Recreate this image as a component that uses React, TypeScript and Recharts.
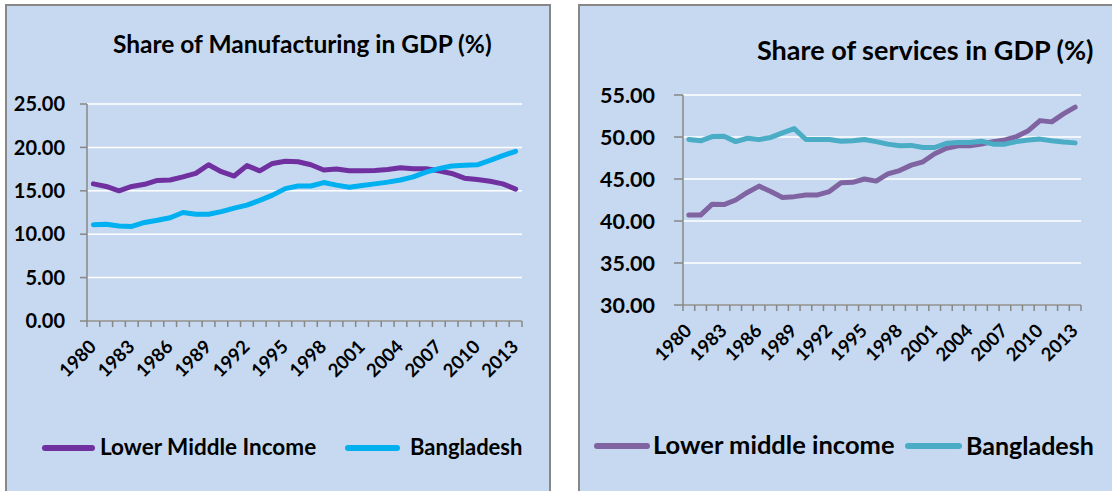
import { LineChart, Line, XAxis, YAxis, CartesianGrid } from "recharts";

const years = [
  1980, 1981, 1982, 1983, 1984, 1985, 1986, 1987, 1988, 1989, 1990, 1991,
  1992, 1993, 1994, 1995, 1996, 1997, 1998, 1999, 2000, 2001, 2002, 2003,
  2004, 2005, 2006, 2007, 2008, 2009, 2010, 2011, 2012, 2013,
];

const mfgLowerMiddle = [
  15.8, 15.5, 15.0, 15.5, 15.75, 16.2, 16.25, 16.6, 17.0, 18.0, 17.2, 16.7,
  17.9, 17.3, 18.15, 18.4, 18.35, 18.0, 17.4, 17.5, 17.3, 17.3, 17.35, 17.45,
  17.65, 17.55, 17.55, 17.3, 17.0, 16.45, 16.3, 16.1, 15.8, 15.2,
];
const mfgBangladesh = [
  11.1, 11.15, 10.95, 10.9, 11.35, 11.6, 11.9, 12.5, 12.3, 12.3, 12.6, 13.0,
  13.35, 13.9, 14.5, 15.25, 15.55, 15.55, 15.95, 15.65, 15.4, 15.6, 15.8, 16.0,
  16.25, 16.6, 17.15, 17.55, 17.85, 17.95, 18.0, 18.5, 19.05, 19.55,
];
const svcLowerMiddle = [
  40.7, 40.7, 42.0, 41.95, 42.5, 43.4, 44.15, 43.5, 42.8, 42.9, 43.1, 43.1,
  43.5, 44.55, 44.6, 45.0, 44.75, 45.6, 46.0, 46.65, 47.05, 48.0, 48.65, 48.95,
  48.95, 49.15, 49.45, 49.65, 50.05, 50.75, 51.95, 51.8, 52.75, 53.55,
];
const svcBangladesh = [
  49.7, 49.55, 50.05, 50.1, 49.45, 49.85, 49.7, 49.95, 50.5, 51.0, 49.7, 49.7,
  49.7, 49.5, 49.55, 49.7, 49.45, 49.15, 48.95, 49.0, 48.75, 48.75, 49.25, 49.35,
  49.35, 49.5, 49.15, 49.15, 49.45, 49.65, 49.75, 49.55, 49.4, 49.3,
];

const mfgTicks = [0, 5, 10, 15, 20, 25];
const svcTicks = [30, 35, 40, 45, 50, 55];

const FONT = "Lato, 'Open Sans', sans-serif";
const AXIS = "#878787";
const BG = "#c6d9f0";

const mfgData = years.map((y, i) => ({
  year: y,
  lmi: mfgLowerMiddle[i],
  bd: mfgBangladesh[i],
}));
const svcData = years.map((y, i) => ({
  year: y,
  lmi: svcLowerMiddle[i],
  bd: svcBangladesh[i],
}));

// category tick: mark on category boundaries (Excel style), label every 3rd year
function makeTick(step: number, count: number, fontSize: number) {
  return (props: any) => {
    const { x, y, index, payload } = props;
    const h = step / 2;
    const lx = x + 4;
    const ly = y + 27;
    return (
      <g>
        <line x1={x - h} x2={x - h} y1={y} y2={y + 6} stroke={AXIS} strokeWidth={1.5} />
        {index === count - 1 && (
          <line x1={x + h} x2={x + h} y1={y} y2={y + 6} stroke={AXIS} strokeWidth={1.5} />
        )}
        {index % 3 === 0 && (
          <text
            x={lx}
            y={ly}
            transform={`rotate(-45, ${lx}, ${ly})`}
            textAnchor="end"
            fontFamily={FONT}
            fontWeight={700}
            fontSize={fontSize}
            fill="#000"
          >
            {payload.value}
          </text>
        )}
      </g>
    );
  };
}

interface PanelProps {
  left: number;
  width: number;
  data: any[];
  colors: [string, string];
  names: [string, string];
  ticks: number[];
  plotLeft: number;
  plotRight: number;
  plotTop: number;
  plotBottom: number;
  yFont: number;
  yTickSize: number;
  yTickMargin: number;
  xFont: number;
}

function Panel({
  left,
  width,
  data,
  colors,
  names,
  ticks,
  plotLeft,
  plotRight,
  plotTop,
  plotBottom,
  yFont,
  yTickSize,
  yTickMargin,
  xFont,
}: PanelProps) {
  const plotW = plotRight - plotLeft;
  const step = plotW / data.length;
  return (
    <div style={{ position: "absolute", left, top: 0 }}>
      <LineChart
        width={width}
        height={491}
        data={data}
        margin={{ top: plotTop, left: 0, right: width - plotRight, bottom: 491 - plotBottom - 60 }}
      >
        <CartesianGrid horizontal vertical={false} stroke="#ffffff" strokeWidth={1.5} />
        <XAxis
          dataKey="year"
          height={60}
          interval={0}
          padding={{ left: step / 2, right: step / 2 }}
          tickLine={false}
          tickSize={0}
          tickMargin={0}
          axisLine={{ stroke: AXIS, strokeWidth: 1.5 }}
          tick={makeTick(step, data.length, xFont)}
        />
        <YAxis
          width={plotLeft}
          domain={[ticks[0], ticks[ticks.length - 1]]}
          ticks={ticks}
          tickFormatter={(v: number) => v.toFixed(2)}
          tickSize={yTickSize}
          tickMargin={yTickMargin}
          tickLine={{ stroke: AXIS, strokeWidth: 1.5 }}
          axisLine={{ stroke: AXIS, strokeWidth: 1.5 }}
          tick={{ fill: "#000", fontSize: yFont, fontWeight: 700, fontFamily: FONT }}
        />
        <Line
          type="linear"
          dataKey="lmi"
          name={names[0]}
          stroke={colors[0]}
          strokeWidth={5}
          strokeLinecap="round"
          strokeLinejoin="round"
          dot={false}
          isAnimationActive={false}
        />
        <Line
          type="linear"
          dataKey="bd"
          name={names[1]}
          stroke={colors[1]}
          strokeWidth={5}
          strokeLinecap="round"
          strokeLinejoin="round"
          dot={false}
          isAnimationActive={false}
        />
      </LineChart>
    </div>
  );
}

function LegendItem({
  x,
  y,
  lineW,
  textX,
  color,
  label,
  fontSize,
}: {
  x: number;
  y: number;
  lineW: number;
  textX: number;
  color: string;
  label: string;
  fontSize: number;
}) {
  return (
    <>
      <div
        style={{
          position: "absolute",
          left: x,
          top: y - 3,
          width: lineW,
          height: 6,
          borderRadius: 3,
          background: color,
        }}
      />
      <div
        style={{
          position: "absolute",
          left: textX,
          top: y - fontSize / 2 - 1,
          fontSize,
          lineHeight: 1,
          fontWeight: 700,
          fontFamily: FONT,
          whiteSpace: "nowrap",
          color: "#000",
        }}
      >
        {label}
      </div>
    </>
  );
}

export default function App() {
  const mfgColors: [string, string] = ["#7030a0", "#00b0f0"];
  const svcColors: [string, string] = ["#8064a2", "#4bacc6"];
  return (
    <div
      style={{
        position: "absolute",
        left: 0,
        top: 0,
        width: 1112,
        height: 491,
        overflow: "hidden",
        background: "#ffffff",
        fontFamily: FONT,
      }}
    >
      {/* panel frames */}
      <div
        style={{
          position: "absolute",
          left: 5,
          top: 4,
          width: 542,
          height: 500,
          background: BG,
          border: `2px solid ${AXIS}`,
        }}
      />
      <div
        style={{
          position: "absolute",
          left: 578,
          top: 4,
          width: 560,
          height: 500,
          background: BG,
          border: `2px solid ${AXIS}`,
        }}
      />

      <div
        style={{
          position: "absolute",
          left: 113,
          top: 32,
          fontSize: 24.5,
          lineHeight: 1,
          fontWeight: 700,
          whiteSpace: "nowrap",
        }}
      >
        Share of Manufacturing in GDP (%)
      </div>
      <div
        style={{
          position: "absolute",
          left: 757,
          top: 36,
          fontSize: 27,
          lineHeight: 1,
          fontWeight: 700,
          whiteSpace: "nowrap",
        }}
      >
        Share of services in GDP (%)
      </div>

      <Panel
        left={0}
        width={560}
        data={mfgData}
        colors={mfgColors}
        names={["Lower Middle Income", "Bangladesh"]}
        ticks={mfgTicks}
        plotLeft={87}
        plotRight={522}
        plotTop={104}
        plotBottom={321}
        yFont={20}
        yTickSize={7}
        yTickMargin={15}
        xFont={18.5}
      />
      <Panel
        left={560}
        width={552}
        data={svcData}
        colors={svcColors}
        names={["Lower middle income", "Bangladesh"]}
        ticks={svcTicks}
        plotLeft={123}
        plotRight={521}
        plotTop={95}
        plotBottom={305}
        yFont={21.5}
        yTickSize={9}
        yTickMargin={19}
        xFont={18.5}
      />

      <LegendItem x={42} y={448} lineW={53} textX={100} color={mfgColors[0]} label="Lower Middle Income" fontSize={22.5} />
      <LegendItem x={345} y={448} lineW={55} textX={410} color={mfgColors[1]} label="Bangladesh" fontSize={22} />
      <LegendItem x={594} y={446} lineW={56} textX={653} color={svcColors[0]} label="Lower middle income" fontSize={25.5} />
      <LegendItem x={905} y={446} lineW={57} textX={966} color={svcColors[1]} label="Bangladesh" fontSize={25} />
    </div>
  );
}
